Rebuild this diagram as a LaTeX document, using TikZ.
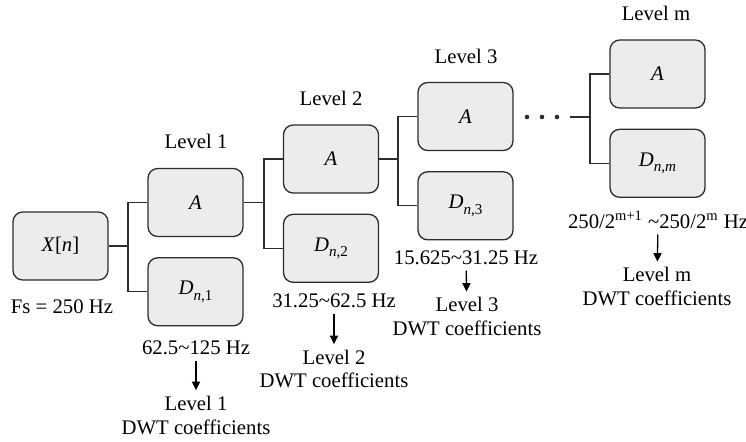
\documentclass[tikz,border=0pt]{standalone}
\usepackage{fontspec}
\setmainfont{Liberation Serif}
\usetikzlibrary{arrows.meta,positioning}
\definecolor{boxgray}{RGB}{236,236,236}
\definecolor{edgegray}{RGB}{45,45,45}
\newcommand{\dsub}[1]{\textit{D}\raisebox{-0.55ex}{\fontsize{8.6}{9}\selectfont\textit{n},#1}}

\begin{document}
\begin{tikzpicture}[
    x=0.02cm, y=-0.02cm,
    node distance=0.4cm,
    every node/.style={font=\fontsize{11.8}{13.6}\selectfont},
    blk/.style={rectangle,rounded corners=5.5pt,draw=edgegray,fill=boxgray,line width=0.75pt,
      minimum width=1.9cm,minimum height=1.36cm,align=center},
    txt/.style={inner sep=1pt,align=center},
    link/.style={draw=edgegray,line width=0.75pt},
    arrow/.style={-{Triangle[length=4.8pt,width=4.6pt]},line width=0.75pt,shorten <=2pt,shorten >=2pt}
  ]
    \useasboundingbox (0,0) rectangle (746,441);

    \node[blk] (xn) at (60.5,246) {\textit{X}[\textit{n}]};
    \node[blk] (a1) at (195.5,202.5) {\textit{A}};
    \node[blk,below=of a1] (d1) {\dsub{1}};
    \node[blk] (a2) at (331,159) {\textit{A}};
    \node[blk,below=of a2] (d2) {\dsub{2}};
    \node[blk] (a3) at (465.5,116.5) {\textit{A}};
    \node[blk,below=of a3] (d3) {\dsub{3}};
    \node[blk] (am) at (657.5,74) {\textit{A}};
    \node[blk,below=of am] (dm) {\dsub{\textit{m}}};

    % level titles
    \node[txt] (lv1) at (196,141) {Level 1};
    \node[txt] (lv2) at (331,98) {Level 2};
    \node[txt] (lv3) at (466,56) {Level 3};
    \node[txt] (lvm) at (656,13) {Level m};

    % forks
    \coordinate (f1) at (128,246);
    \coordinate (f2) at (264,202.5);
    \coordinate (f3) at (398,159);
    \coordinate (fm) at (590,117);
    \coordinate (fmin) at (570,117);

    \draw[link] (xn) -- (f1);
    \draw[link] (a1.west) -| (f1) |- (d1.west);
    \draw[link] (a1) -- (f2);
    \draw[link] (a2.west) -| (f2) |- (d2.west);
    \draw[link] (a2) -- (f3);
    \draw[link] (a3.west) -| (f3) |- (d3.west);
    \draw[link] (fmin) -- (fm);
    \draw[link] (am.west) -| (fm) |- (dm.west);
    \foreach \px in {527,542,557}
      \fill[edgegray] (\px,117) circle (1.3pt);

    % bands and outputs
    \node[txt] (fs) at (62,307) {Fs = 250 Hz};
    \node[txt] (b1) at (196,348) {62.5\textasciitilde125 Hz};
    \node[txt] (b2) at (334,301) {31.25\textasciitilde62.5 Hz};
    \node[txt] (b3) at (466,258) {15.625\textasciitilde31.25 Hz};
    \node[txt] (bm) at (658,220) {250/2\textsuperscript{m+1} \textasciitilde250/2\textsuperscript{m} Hz};

    \node[txt] (o1) at (196,415) {Level 1\\DWT coefficients};
    \node[txt] (o2) at (334,369) {Level 2\\DWT coefficients};
    \node[txt] (o3) at (467,316.5) {Level 3\\DWT coefficients};
    \node[txt] (om) at (657,286.5) {Level m\\DWT coefficients};

    \draw[arrow] (b1) -- (o1);
    \draw[arrow] (b2) -- (o2);
    \draw[arrow] (b3) -- (o3);
    \draw[arrow] (bm) -- (om);
\end{tikzpicture}
\end{document}
